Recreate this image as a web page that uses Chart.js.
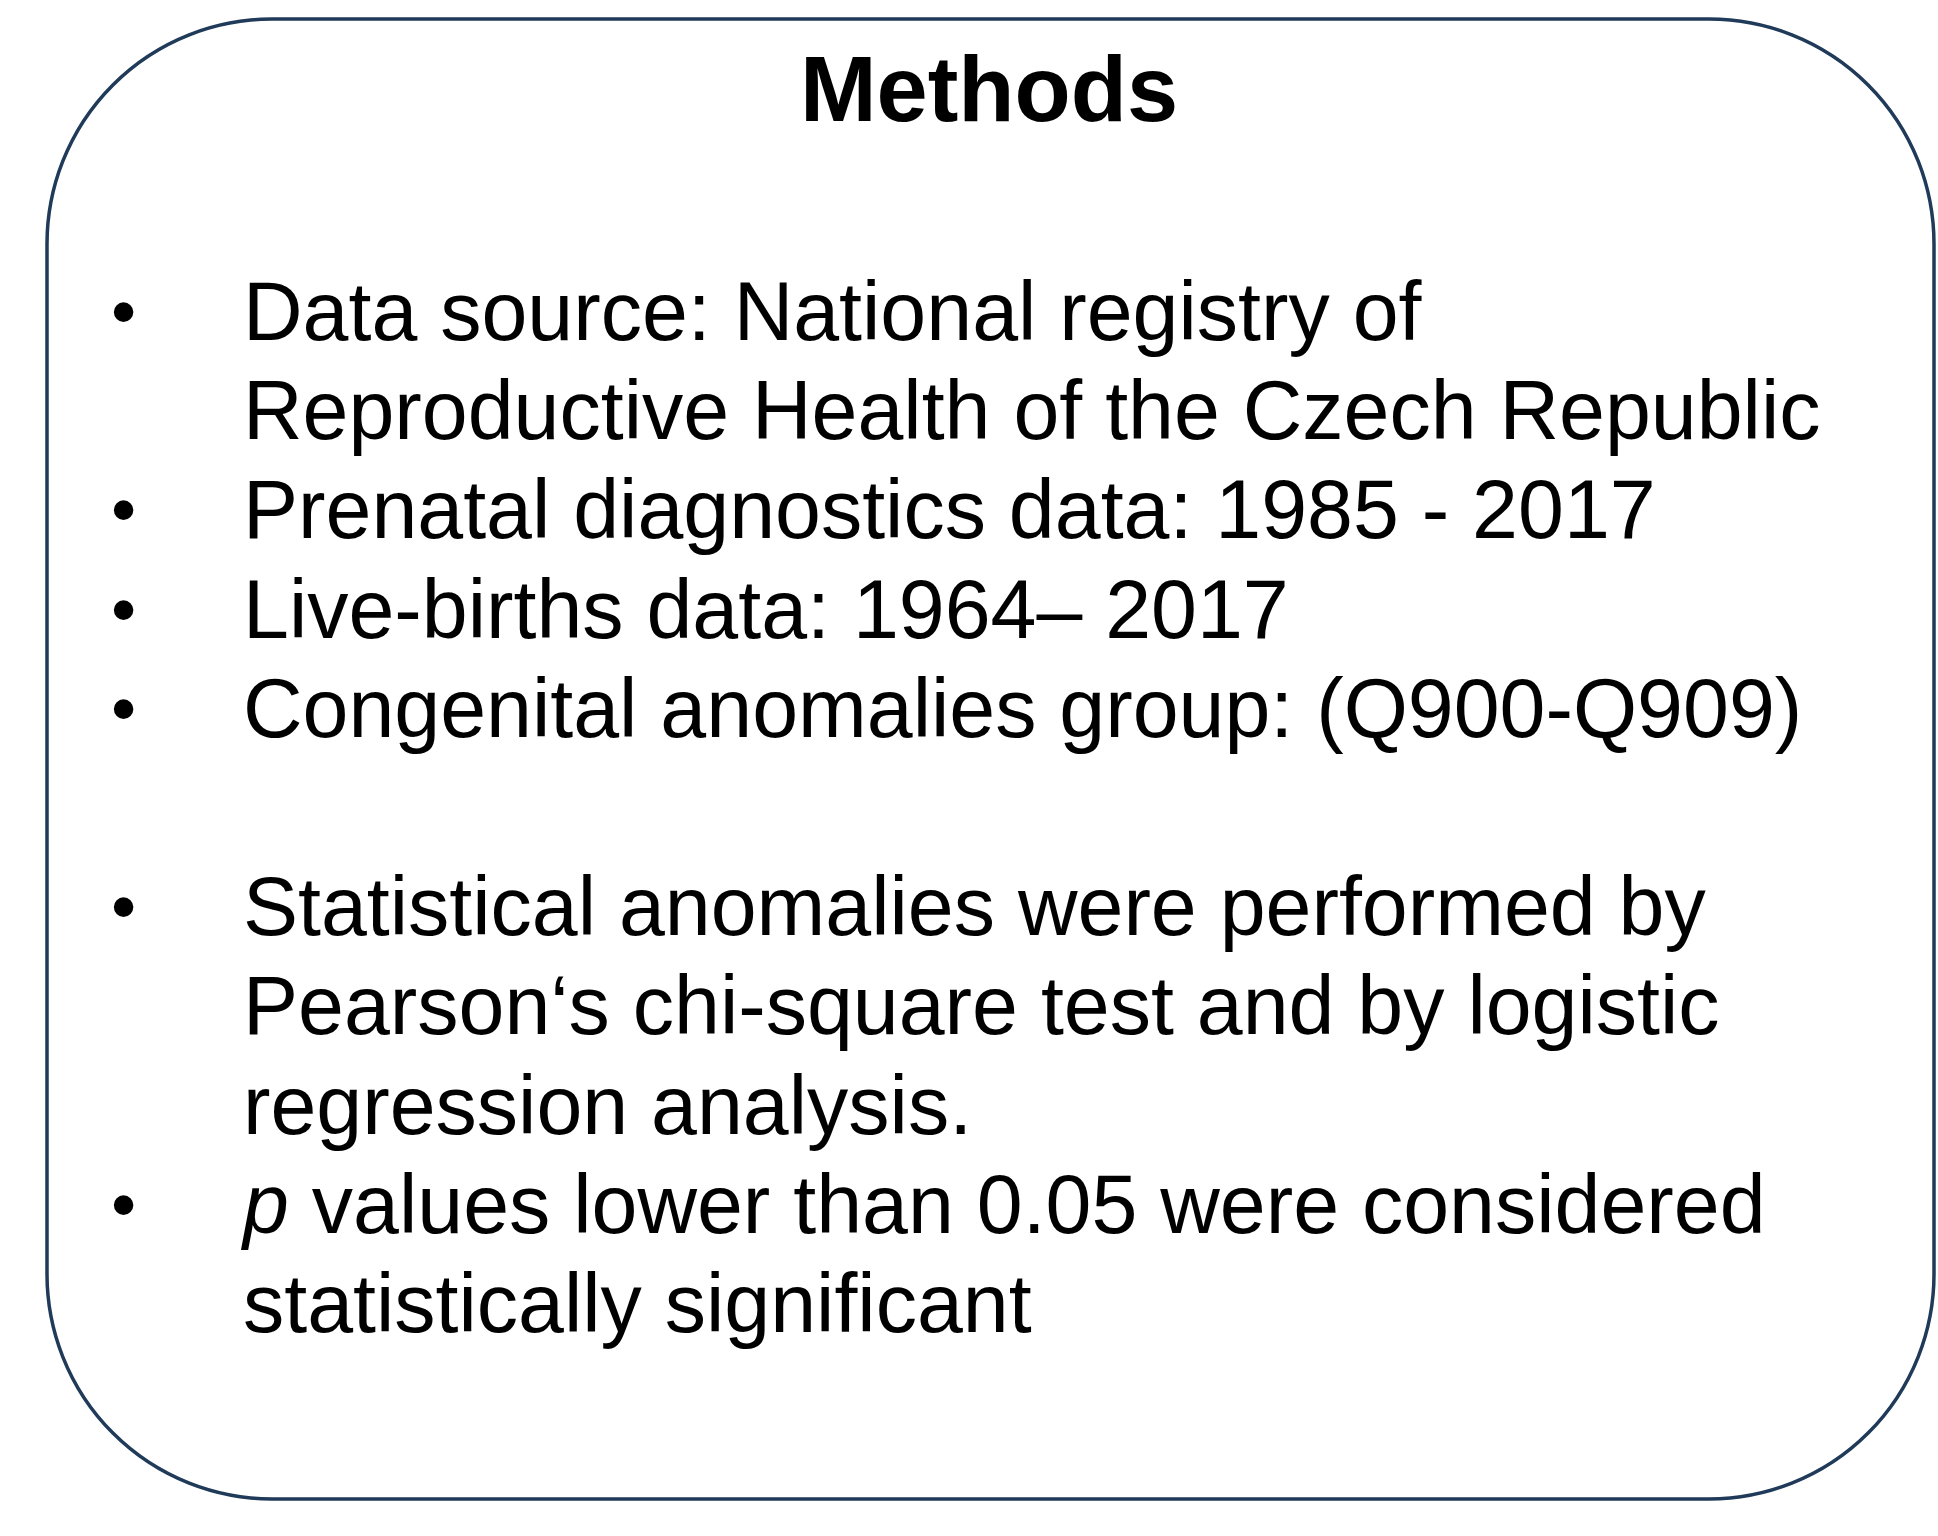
<!DOCTYPE html>
<html>
<head>
<meta charset="utf-8">
<script src="https://cdn.jsdelivr.net/npm/chart.js@4.4.1/dist/chart.umd.min.js"></script>
<style>
  html, body { margin: 0; padding: 0; background: #ffffff; }
  #wrap { width: 1938px; height: 1536px; position: relative; }
</style>
</head>
<body>
<div id="wrap"><canvas id="methodsChart"></canvas></div>
<script>
// Texto del cuadro
const boxTitle = "Methods";

// cada punto es una lista de líneas; null = línea vacía
const bulletItems = [
  ["Data source: National registry of", "Reproductive Health of the Czech Republic"],
  ["Prenatal diagnostics data: 1985 - 2017"],
  ["Live-births data: 1964\u2013 2017"],
  ["Congenital anomalies group: (Q900-Q909)"],
  null,
  ["Statistical anomalies were performed by", "Pearson\u2018s chi-square test and by logistic", "regression analysis."],
  ["values lower than 0.05 were considered", "statistically significant"]
];
// prefijo en cursiva para cada punto (solo el último)
const italicLead = ["", "", "", "", "", "", "p"];

const FONT = '"Liberation Sans", Arial, Helvetica, sans-serif';

// marco redondeado
const framePlugin = {
  id: "frame",
  beforeDraw(chart) {
    const ctx = chart.ctx;
    const x = 47, y = 19, w = 1934 - 47, h = 1499 - 19, r = 225;
    ctx.save();
    ctx.fillStyle = "#ffffff";
    ctx.fillRect(0, 0, chart.width, chart.height);
    ctx.beginPath();
    ctx.roundRect(x, y, w, h, r);
    ctx.strokeStyle = "#203a59";
    ctx.lineWidth = 3.5;
    ctx.stroke();
    ctx.restore();
  }
};

// lista con viñetas
const bulletPlugin = {
  id: "bullets",
  afterDraw(chart) {
    const ctx = chart.ctx;
    const size = 82.5;
    const textX = 243, bulletX = 111;
    const firstBase = 340, step = 99.2;
    let row = 0;
    ctx.save();
    ctx.fillStyle = "#000000";
    ctx.textBaseline = "alphabetic";
    ctx.textAlign = "left";
    bulletItems.forEach((item, i) => {
      if (!item) { row++; return; }
      item.forEach((line, j) => {
        const yb = firstBase + row * step;
        let x = textX;
        if (j === 0) {
          ctx.font = `72px ${FONT}`;
          ctx.fillText("\u2022", bulletX, yb - 4);
        }
        ctx.font = `${size}px ${FONT}`;
        if (j === 0 && italicLead[i]) {
          ctx.font = `italic ${size}px ${FONT}`;
          ctx.fillText(italicLead[i], x, yb);
          x += ctx.measureText(italicLead[i] + " ").width;
          ctx.font = `${size}px ${FONT}`;
        }
        ctx.fillText(line, x, yb);
        row++;
      });
    });
    ctx.restore();
  }
};

const ctx = document.getElementById("methodsChart").getContext("2d");
new Chart(ctx, {
  type: "scatter",
  data: { datasets: [{ data: [] }] },
  options: {
    responsive: true,
    maintainAspectRatio: false,
    animation: false,
    layout: { padding: { left: 40, top: 0, right: 0, bottom: 0 } },
    scales: { x: { display: false }, y: { display: false } },
    plugins: {
      legend: { display: false },
      tooltip: { enabled: false },
      title: {
        display: true,
        text: boxTitle,
        color: "#000000",
        font: { family: FONT, size: 92, weight: "bold" },
        padding: { top: 40, bottom: 10 }
      }
    }
  },
  plugins: [framePlugin, bulletPlugin]
});
</script>
</body>
</html>
